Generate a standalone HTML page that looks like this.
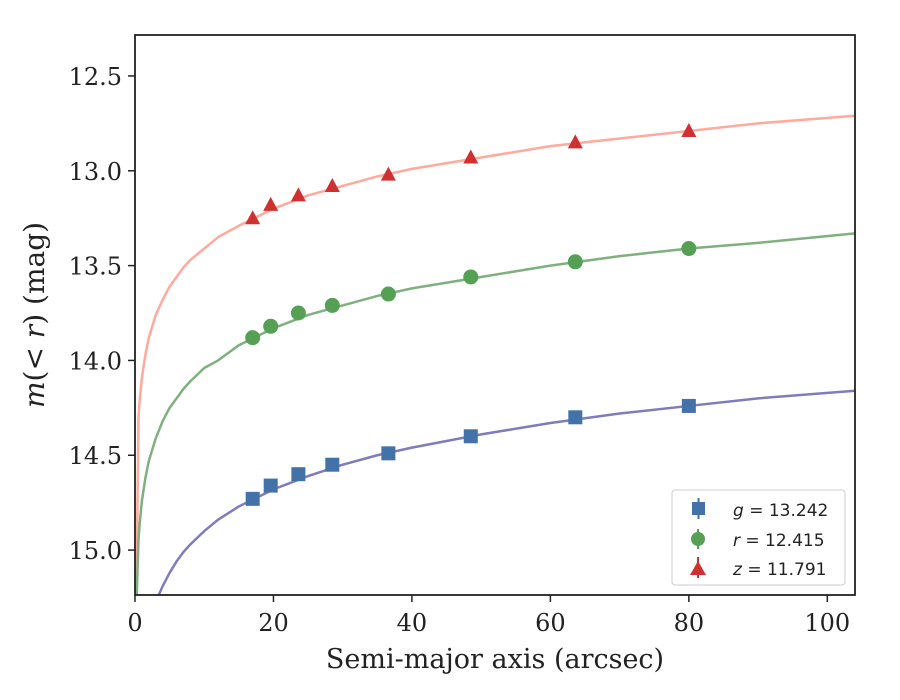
<!DOCTYPE html>
<html><head><meta charset="utf-8"><style>
body{margin:0;background:#fff}
svg{display:block;font-family:"DejaVu Serif","Liberation Serif",serif}
</style></head><body>
<svg id="chart" width="900" height="700">
<rect x="0" y="0" width="900" height="700" fill="#fff"/>
<g id="curves"></g><g id="marks"></g><g id="axes"></g>
<rect x="135" y="35" width="720" height="560" fill="none" stroke="#222" stroke-width="1.8"/>
<text x="495" y="668" font-size="27" text-anchor="middle" fill="#222">Semi-major axis (arcsec)</text>
<text transform="translate(44,315) rotate(-90)" font-size="28" text-anchor="middle" fill="#222"><tspan font-style="italic">m</tspan>(&lt; <tspan font-style="italic">r</tspan>) (mag)</text>
<g>
<rect x="672" y="490" width="173" height="95" rx="3" fill="#fff" stroke="#ccc"/>
<rect x="692" y="502" width="13" height="13" fill="#4272a8"/>
<line x1="698.5" x2="698.5" y1="498" y2="519" stroke="#4272a8" stroke-width="2"/>
<text x="733" y="516" font-size="17" font-family="DejaVu Sans,sans-serif" fill="#222"><tspan font-style="italic">g</tspan> = 13.242</text>
<circle cx="698" cy="539" r="7" fill="#55a055"/>
<line x1="698" x2="698" y1="529" y2="549" stroke="#55a055" stroke-width="2"/>
<text x="733" y="546" font-size="17" font-family="DejaVu Sans,sans-serif" fill="#222"><tspan font-style="italic">r</tspan> = 12.415</text>
<polygon points="698,561 706,575 690,575" fill="#d03030"/>
<line x1="698" x2="698" y1="557" y2="578" stroke="#d03030" stroke-width="2"/>
<text x="733" y="575" font-size="17" font-family="DejaVu Sans,sans-serif" fill="#222"><tspan font-style="italic">z</tspan> = 11.791</text>
</g>
</svg>
<script>
const pointX=[17,19.6,23.6,28.5,36.6,48.5,63.6,80.0];
const gVals=[14.73,14.66,14.60,14.55,14.49,14.40,14.30,14.24];
const rVals=[13.88,13.82,13.75,13.71,13.65,13.56,13.48,13.41];
const zVals=[13.25,13.18,13.13,13.08,13.02,12.93,12.85,12.79];
const curveX=[0.2,0.5,0.7,1,1.5,2,3,4,5,6,7,8,10,12,15,20,25,30,35,40,50,60,70,80,90,104];
const zCurve=[15.3,14.3,14.20,14.09,13.97,13.88,13.76,13.68,13.61,13.56,13.51,13.47,13.41,13.35,13.29,13.20,13.13,13.08,13.03,12.99,12.93,12.87,12.83,12.79,12.75,12.71];
const rCurve=[15.3,14.95,14.85,14.74,14.62,14.53,14.41,14.32,14.25,14.20,14.15,14.11,14.04,14.00,13.92,13.83,13.76,13.71,13.66,13.62,13.56,13.50,13.45,13.41,13.38,13.33];
const gCurveX=[3.4,4,5,6,7,8,10,12,15,20,25,30,35,40,50,60,70,80,90,104];
const gCurve=[15.24,15.19,15.12,15.06,15.01,14.97,14.90,14.84,14.77,14.68,14.61,14.55,14.50,14.46,14.39,14.33,14.28,14.24,14.20,14.16];
const xTicks=[0,20,40,60,80,100];
const yTicks=[12.5,13.0,13.5,14.0,14.5,15.0];
const NS='http://www.w3.org/2000/svg';
const X0=135,X1=855,XMIN=0,XMAX=104,Y0=35,Y1=595,YMIN=12.284,YMAX=15.237;
function sx(v){return X0+(v-XMIN)/(XMAX-XMIN)*(X1-X0);}
function sy(v){return Y0+(v-YMIN)/(YMAX-YMIN)*(Y1-Y0);}
function mk(tag,attrs,parent){const e=document.createElementNS(NS,tag);for(const k in attrs)e.setAttribute(k,attrs[k]);parent.appendChild(e);return e;}
const curves=document.getElementById('curves'),marks=document.getElementById('marks'),axes=document.getElementById('axes');
const clip=mk('clipPath',{id:'pc'},document.getElementById('chart'));
mk('rect',{x:X0,y:Y0,width:X1-X0,height:Y1-Y0},clip);
curves.setAttribute('clip-path','url(#pc)');
function curve(xs,ys,color,name){
  const p=mk('polyline',{points:xs.map((x,i)=>sx(x)+','+sy(ys[i])).join(' '),fill:'none',stroke:color,'stroke-width':2.5,'stroke-linejoin':'round'},curves);
  
  
}
curve(curveX,zCurve,'#ffaa9c','z-model-curve');
curve(curveX,rCurve,'#80b07f','r-model-curve');
curve(gCurveX,gCurve,'#7e7cbc','g-model-curve');
pointX.forEach((x,i)=>{
  const cx=sx(x);
  let e=mk('rect',{x:cx-7,y:sy(gVals[i])-7,width:14,height:14,fill:'#4272a8'},marks);
  
  
  e=mk('circle',{cx:cx,cy:sy(rVals[i]),r:7.5,fill:'#55a055'},marks);
  
  
  const y=sy(zVals[i]);
  e=mk('polygon',{points:`${cx},${y-8} ${cx+7.5},${y+6} ${cx-7.5},${y+6}`,fill:'#d03030'},marks);
  
  
});
xTicks.forEach(t=>{
  const x=sx(t);
  mk('line',{x1:x,x2:x,y1:Y1,y2:Y1+7,stroke:'#222','stroke-width':1.5},axes);
  const tx=mk('text',{x:x,y:Y1+36,'font-size':24,'text-anchor':'middle',fill:'#222'},axes);
  tx.textContent=t;
  
  
});
yTicks.forEach(t=>{
  const y=sy(t);
  mk('line',{x1:X0-7,x2:X0,y1:y,y2:y,stroke:'#222','stroke-width':1.5},axes);
  const tx=mk('text',{x:X0-13,y:y+9,'font-size':24,'text-anchor':'end',fill:'#222'},axes);
  tx.textContent=t.toFixed(1);
  
  
});
</script>
</body></html>
